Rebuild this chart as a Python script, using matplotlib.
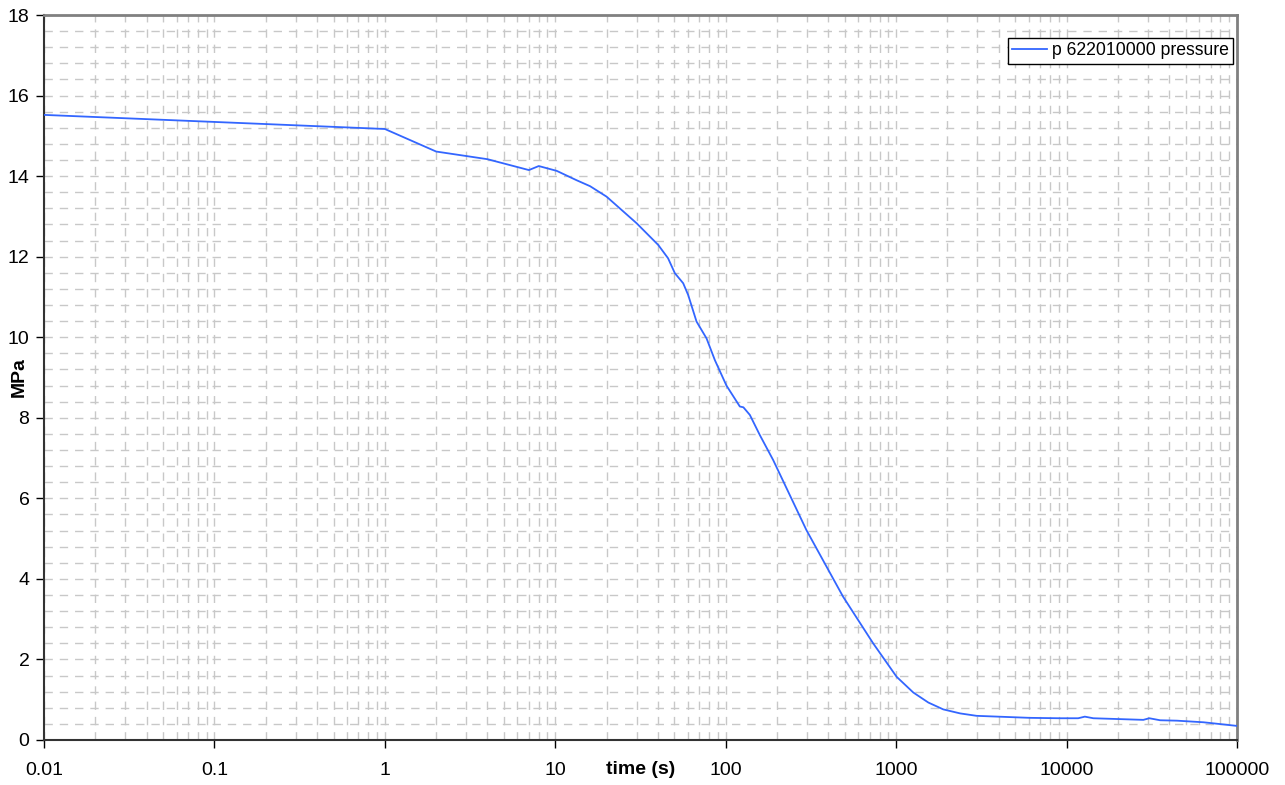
import matplotlib
matplotlib.use('Agg')
import matplotlib.pyplot as plt
from matplotlib.ticker import LogLocator, FixedLocator, NullFormatter, FixedFormatter
import numpy as np

plt.rcParams['font.family'] = ['Liberation Sans', 'DejaVu Sans']

# time (s) and pressure (MPa)
time_s = [0.01, 1.0, 2.0, 4.0, 7.0, 8.0, 10.2, 13.3, 16.0, 20.0, 30.0, 40.2,
          45.9, 50.3, 56.3, 60.2, 67.4, 77.2, 86.4, 101.0, 121.0, 127.0,
          138.6, 158.6, 189.9, 297.7, 488.0, 733.0, 1006.0, 1260.0, 1545.0,
          1890.0, 2376.0, 2966.0, 6093.0, 9120.0, 11700.0, 12800.0, 14350.0,
          28200.0, 30600.0, 35400.0, 44400.0, 63600.0, 100000.0]
pressure = [15.52, 15.17, 14.61, 14.42, 14.15, 14.25, 14.13, 13.90, 13.75,
            13.49, 12.83, 12.29, 11.96, 11.59, 11.34, 11.05, 10.39, 9.97,
            9.43, 8.80, 8.28, 8.26, 8.07, 7.57, 6.95, 5.21, 3.56, 2.40, 1.57,
            1.18, 0.93, 0.76, 0.66, 0.60, 0.55, 0.54, 0.54, 0.58, 0.54, 0.50,
            0.54, 0.49, 0.48, 0.44, 0.35]

x_ticks = [0.01, 0.1, 1, 10, 100, 1000, 10000, 100000]
x_labels = ['0.01', '0.1', '1', '10', '100', '1000', '10000', '100000']
y_ticks = list(range(0, 19, 2))

fig = plt.figure(figsize=(12.85, 7.85), dpi=100)
ax = fig.add_axes([44 / 1285, 45 / 785, (1237 - 44) / 1285, (740 - 15) / 785])

ax.plot(time_s, pressure, color='#3366ff', lw=1.3,
        label='p 622010000 pressure', zorder=3)

ax.set_xscale('log')
ax.set_xlim(0.01, 100000)
ax.set_ylim(0, 18)

ax.xaxis.set_major_locator(FixedLocator(x_ticks))
ax.xaxis.set_major_formatter(FixedFormatter(x_labels))
ax.xaxis.set_minor_locator(LogLocator(base=10, subs=np.arange(2, 10)))
ax.xaxis.set_minor_formatter(NullFormatter())
ax.set_yticks(y_ticks)
ax.set_yticks(np.arange(0, 18.01, 0.4), minor=True)

ax.tick_params(axis='both', which='major', direction='out', length=5.5,
               width=1, labelsize=14, colors='black')
ax.tick_params(axis='both', which='minor', length=0)
ax.tick_params(axis='x', which='major', pad=10.5)
ax.tick_params(axis='y', which='major', pad=5)

grid_kw = dict(color='#c8c8c8', lw=1, dashes=(6, 5))
ax.grid(True, which='both', axis='both', **grid_kw)
ax.set_axisbelow(True)

for side in ['top', 'right']:
    ax.spines[side].set_color('#808080')
    ax.spines[side].set_linewidth(2)
for side in ['left', 'bottom']:
    ax.spines[side].set_color('#333333')
    ax.spines[side].set_linewidth(1.5)

fig.text(19.5 / 1285, 1 - 377 / 785, 'MPa', rotation=90, ha='center',
         va='center', fontsize=14, fontweight='bold')
ax.text(0.5, -0.0407, 'time (s)', transform=ax.transAxes, ha='center',
        va='center', fontsize=14, fontweight='bold')

leg = ax.legend(loc='upper right', bbox_to_anchor=(0.9966, 0.9684),
                fontsize=12.7, frameon=True, fancybox=False, framealpha=1,
                edgecolor='black', borderpad=0.25, handlelength=2.0,
                handletextpad=0.25, borderaxespad=0)
leg.get_frame().set_linewidth(1)

fig.savefig('out.png', dpi=100)
